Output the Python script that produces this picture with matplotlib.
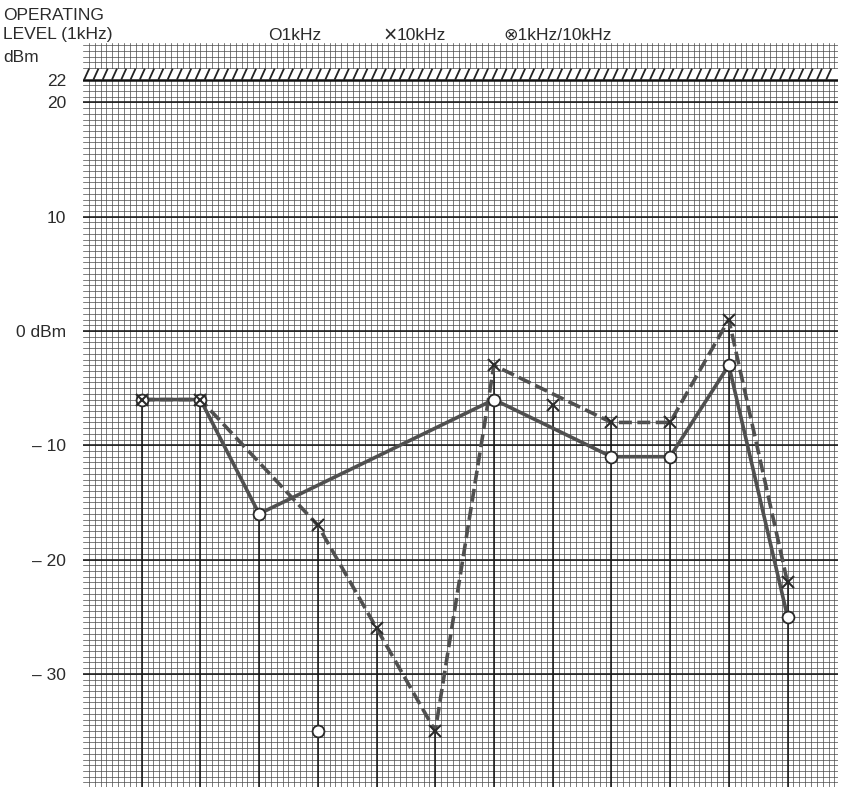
"""Operating level chart (1kHz / 10kHz) on graph-paper style grid."""

import matplotlib

matplotlib.use("Agg")
import matplotlib.pyplot as plt
import numpy as np
from matplotlib.collections import LineCollection

plt.rcParams["font.family"] = ["Liberation Sans", "DejaVu Sans"]

# 1kHz series (circles, solid line); x=4 is a lone point off the line
khz1_x = [1, 2, 3, 7, 9, 10, 11, 12]
khz1_y = [-6, -6, -16, -6, -11, -11, -3, -25]
khz1_lone_x = [4]
khz1_lone_y = [-35]

# 10kHz series (crosses, dashed line); x=8 is a lone point off the line
khz10_x = [1, 2, 4, 5, 6, 7, 9, 10, 11, 12]
khz10_y = [-6, -6, -17, -26, -35, -3, -8, -8, 1, -22]
khz10_lone_x = [8]
khz10_lone_y = [-6.5]

ytick_vals = [22, 20, 10, 0, -10, -20, -30]
ytick_labels = ["22", "20", "10", "0 dBm", "\u2013 10", "\u2013 20", "\u2013 30"]
max_level = 22

YMIN, YMAX = -39.9, 25.2
XMIN, XMAX = 0, 12.86
INK = "#2b2b2b"
LINE = "#505050"
FS = 12.5

fig = plt.figure(figsize=(8.43, 7.90), dpi=100)
ax = fig.add_axes([83 / 843, 3 / 790, 755 / 843, 744 / 790])
ax.set_xlim(XMIN, XMAX)
ax.set_ylim(YMIN, YMAX)

# graph paper grid
for xv in np.arange(0.1, XMAX, 0.1):
    ax.axvline(xv, color="#4a4a4a", lw=0.5, zorder=0)
for yv in np.arange(-39.5, YMAX, 0.5):
    ax.axhline(yv, color="#4a4a4a", lw=0.5, zorder=0)
for yv in ytick_vals[1:]:
    ax.axhline(yv, color="#111111", lw=1.1, zorder=1)

# maximum level band: short slashes sitting on the 22 dBm line
ax.fill_between([XMIN, XMAX], max_level, max_level + 0.96, color="white", lw=0, zorder=1.5)
slash_x = np.arange(0.02, XMAX - 0.09, 0.158)
segs = [[(sx, max_level), (sx + 0.085, max_level + 0.96)] for sx in slash_x]
ax.add_collection(LineCollection(segs, colors="#222222", lw=1.3, zorder=1.6))
ax.axhline(max_level, color="#111111", lw=1.8, zorder=2)

# drop lines from the highest point at each position to the bottom
tops = {}
for xs, ys in [(khz1_x, khz1_y), (khz1_lone_x, khz1_lone_y),
               (khz10_x, khz10_y), (khz10_lone_x, khz10_lone_y)]:
    for xv, yv in zip(xs, ys):
        tops[xv] = max(tops.get(xv, -99), yv)
for xv, top in tops.items():
    ax.vlines(xv, YMIN, top, color="#111111", lw=1.1, zorder=2)

# series
ax.plot(khz1_x, khz1_y, color=LINE, lw=2.6, zorder=3)
ax.plot(khz10_x, khz10_y, color=LINE, lw=2.6, ls=(0, (3.6, 1.5)), zorder=3)
ax.plot(khz1_x + khz1_lone_x, khz1_y + khz1_lone_y, ls="none", marker="o",
        ms=8.5, mfc="white", mec=INK, mew=1.3, zorder=4)
ax.plot(khz10_x + khz10_lone_x, khz10_y + khz10_lone_y, ls="none", marker="x",
        ms=9, mec=INK, mew=1.5, zorder=5)

ax.set_xticks([])
ax.set_yticks(ytick_vals)
ax.set_yticklabels(ytick_labels, fontsize=FS, color=INK)
ax.tick_params(axis="y", length=0, pad=12)
for side in ax.spines.values():
    side.set_visible(False)

# header text
fig.text(3 / 843, 1 - 15 / 790, "OPERATING", fontsize=FS, color=INK, va="center")
fig.text(3 / 843, 1 - 35 / 790, "LEVEL (1kHz)", fontsize=FS, color=INK, va="center")
fig.text(3 / 843, 1 - 57 / 790, "dBm", fontsize=FS, color=INK, va="center")
fig.text(268 / 843, 1 - 35 / 790, "O1kHz", fontsize=FS, color=INK, va="center")
fig.text(383 / 843, 1 - 35 / 790, "\u00d7", fontsize=FS + 4, color=INK, va="center")
fig.text(397 / 843, 1 - 35 / 790, "10kHz", fontsize=FS, color=INK, va="center")
fig.text(503 / 843, 1 - 35 / 790, "\u22971kHz/10kHz", fontsize=FS, color=INK, va="center")

fig.savefig("out.png", dpi=100)
